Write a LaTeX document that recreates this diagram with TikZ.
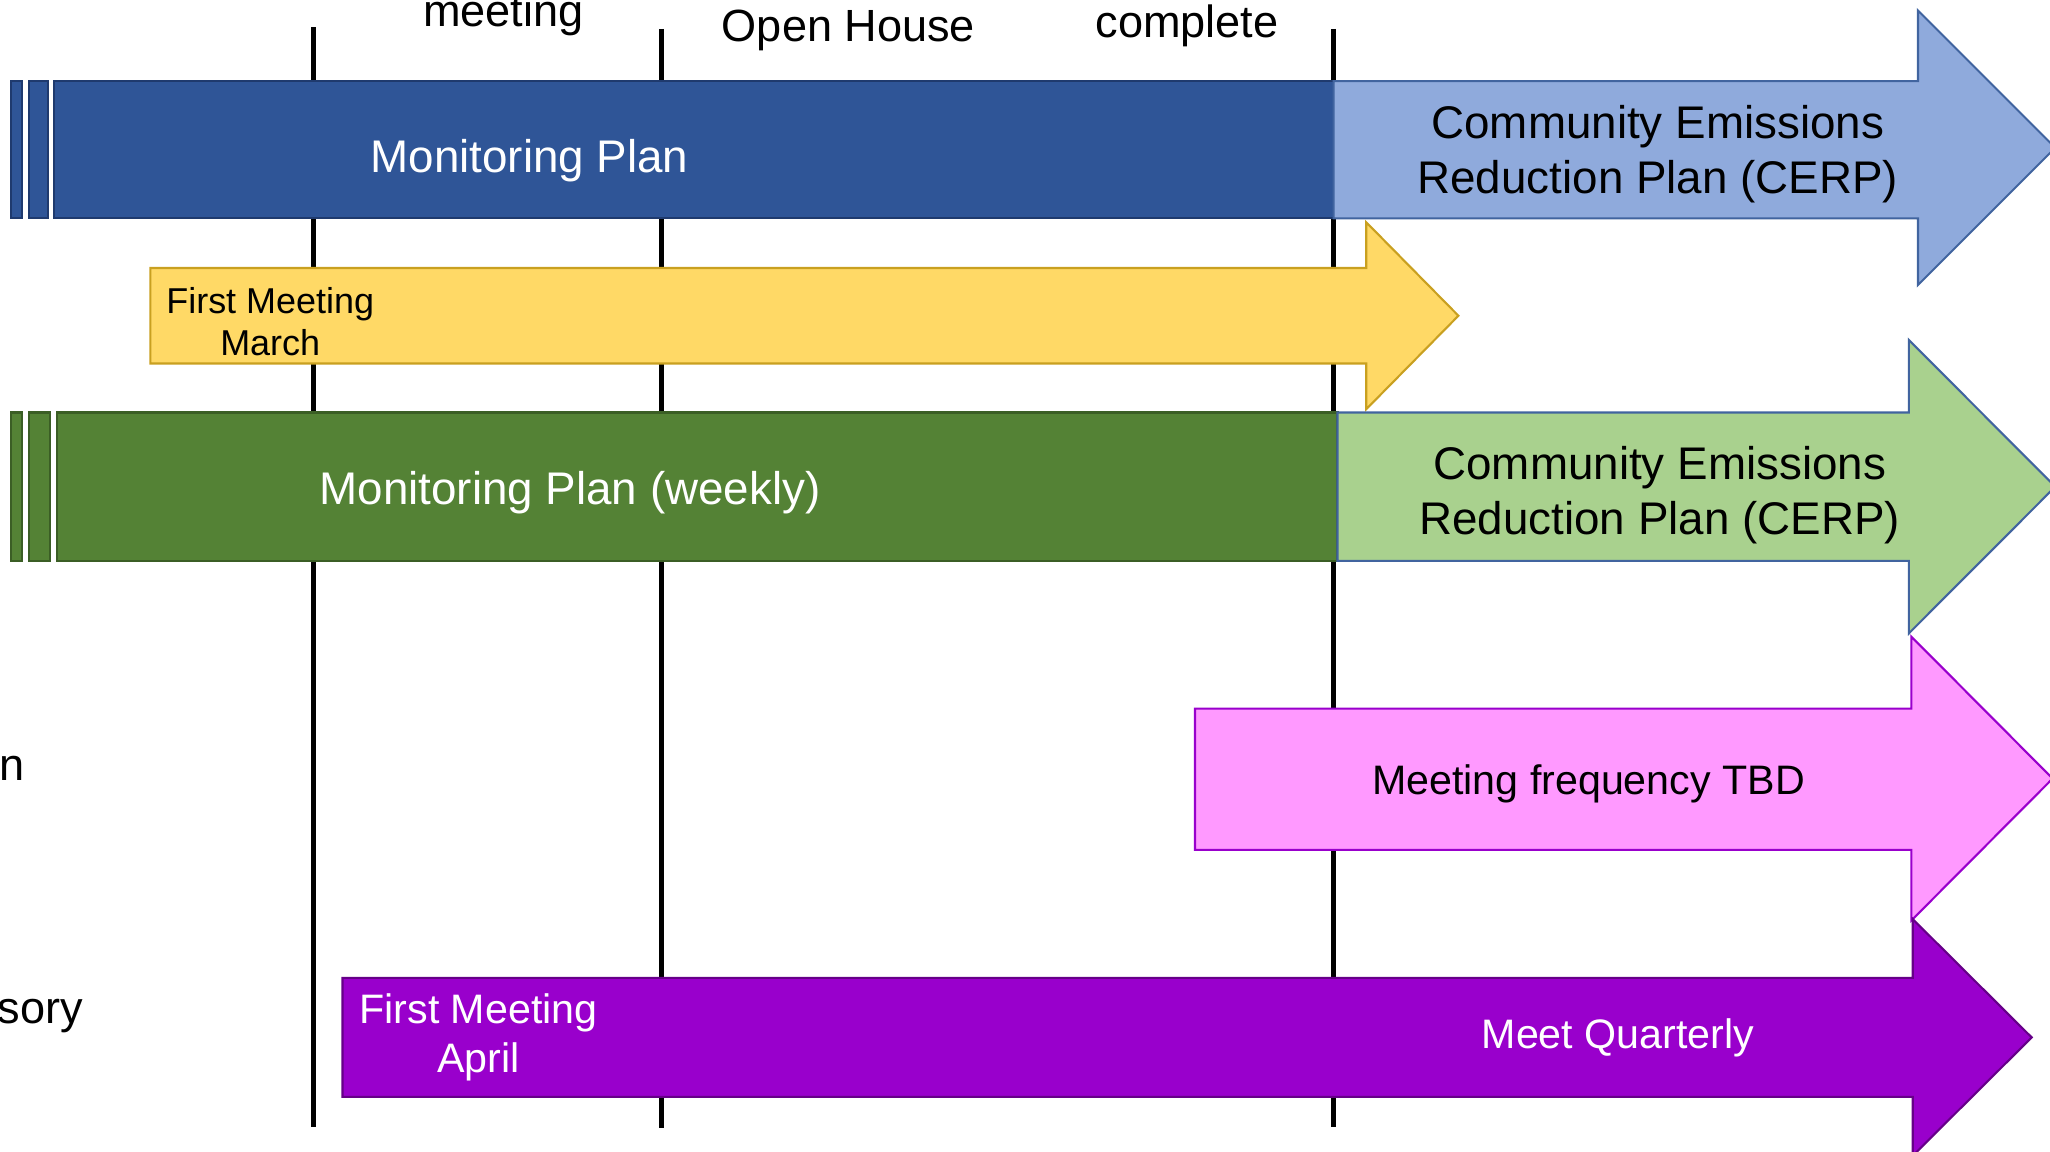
\documentclass[tikz,border=0pt]{standalone}
\usepackage{fontspec}
\setmainfont{Liberation Sans}
\definecolor{blueDk}{HTML}{2F5597}
\definecolor{blueDkEdge}{HTML}{1F3A6E}
\definecolor{blueLt}{HTML}{8FAADC}
\definecolor{blueLtEdge}{HTML}{41649F}
\definecolor{yel}{HTML}{FFD966}
\definecolor{yelEdge}{HTML}{C9A020}
\definecolor{grnDk}{HTML}{548235}
\definecolor{grnDkEdge}{HTML}{3B5E25}
\definecolor{grnLt}{HTML}{A9D18E}
\definecolor{pnk}{HTML}{FF99FF}
\definecolor{pnkEdge}{HTML}{9900CC}
\definecolor{prp}{HTML}{9900CC}
\definecolor{prpEdge}{HTML}{660088}
\begin{document}
\begin{tikzpicture}[x=1pt,y=-1pt,
  vline/.style={line width=4pt, draw=black},
  shp/.style={line width=1.6pt, line join=miter},
  lbl/.style={inner sep=0pt, anchor=base},
  big/.style={font=\fontsize{35}{42}\selectfont},
  mid/.style={font=\fontsize{31.5}{37}\selectfont},
  sml/.style={font=\fontsize{27.5}{32}\selectfont},
  side/.style={font=\fontsize{34.5}{41}\selectfont},
]
\useasboundingbox (0,0) rectangle (1568,881);
\clip (0,0) rectangle (1568,881);

% timeline markers
\draw[vline] (240,21) -- (240,862);
\draw[vline] (506,22) -- (506,863);
\draw[vline] (1020,22) -- (1020,862);

% top labels
\node[lbl, side] (tmeet) at (385,20) {meeting};
\node[lbl, side] (topen) at (649,32) {Open House};
\node[lbl, side] (tcomp) at (908,28.4) {complete};

% left labels (cut off)
\node[lbl, side, anchor=base east] (ln) at (19,597) {n};
\node[lbl, side, anchor=base east] (lsory) at (63.5,783) {sory};

% blue row
\draw[shp, draw=blueDkEdge, fill=blueDk] (8.5,62) rectangle (16.5,167);
\draw[shp, draw=blueDkEdge, fill=blueDk] (22,62) rectangle (37,167);
\draw[shp, draw=blueDkEdge, fill=blueDk] (41,62) rectangle (1020,167);
\draw[shp, draw=blueLtEdge, fill=blueLt] (1020,62) -- (1467,62) -- (1467,8) -- (1572,113) -- (1467,218) -- (1467,167) -- (1020,167) -- cycle;
\node[lbl, big, text=white] (mp1) at (405,132) {Monitoring Plan};
\node[lbl, big] (cerp1a) at (1268,106) {Community Emissions};
\node[lbl, big] (cerp1b) at (1268,148) {Reduction Plan (CERP)};

% yellow row
\draw[shp, draw=yelEdge, fill=yel] (115,205) -- (1045,205) -- (1045,170) -- (1115.5,241.5) -- (1045,313) -- (1045,278) -- (115,278) -- cycle;
\node[lbl, sml] (fm1) at (206.7,240) {First Meeting};
\node[lbl, sml] (fm1b) at (206.7,271.6) {March};

% green row
\draw[shp, draw=grnDkEdge, fill=grnDk] (8.5,315.5) rectangle (17,429);
\draw[shp, draw=grnDkEdge, fill=grnDk] (22,315.5) rectangle (38.2,429);
\draw[shp, draw=grnDkEdge, fill=grnDk] (43.7,315.5) rectangle (1023,429);
\draw[shp, draw=blueLtEdge, fill=grnLt] (1023,315.5) -- (1460,315.5) -- (1460,260) -- (1572,372.25) -- (1460,484.5) -- (1460,429) -- (1023,429) -- cycle;
\node[lbl, big, text=white] (mp2) at (436,385.6) {Monitoring Plan (weekly)};
\node[lbl, big] (cerp2a) at (1269.5,366.5) {Community Emissions};
\node[lbl, big] (cerp2b) at (1269.5,409) {Reduction Plan (CERP)};

% pink row
\draw[shp, draw=pnkEdge, fill=pnk] (914,542) -- (1462,542) -- (1462,487) -- (1570,595.5) -- (1462,704) -- (1462,650) -- (914,650) -- cycle;
\node[lbl, mid] (mf) at (1215,607.5) {Meeting frequency TBD};

% purple row
\draw[shp, draw=prpEdge, fill=prp] (262,748) -- (1463,748) -- (1463,703) -- (1554,793.5) -- (1463,884) -- (1463,839) -- (262,839) -- cycle;
\node[lbl, mid, text=white] (fm2) at (366,783) {First Meeting};
\node[lbl, mid, text=white] (fm2b) at (366,820) {April};
\node[lbl, mid, text=white] (mq) at (1237.5,802) {Meet Quarterly};
\end{tikzpicture}
\end{document}
